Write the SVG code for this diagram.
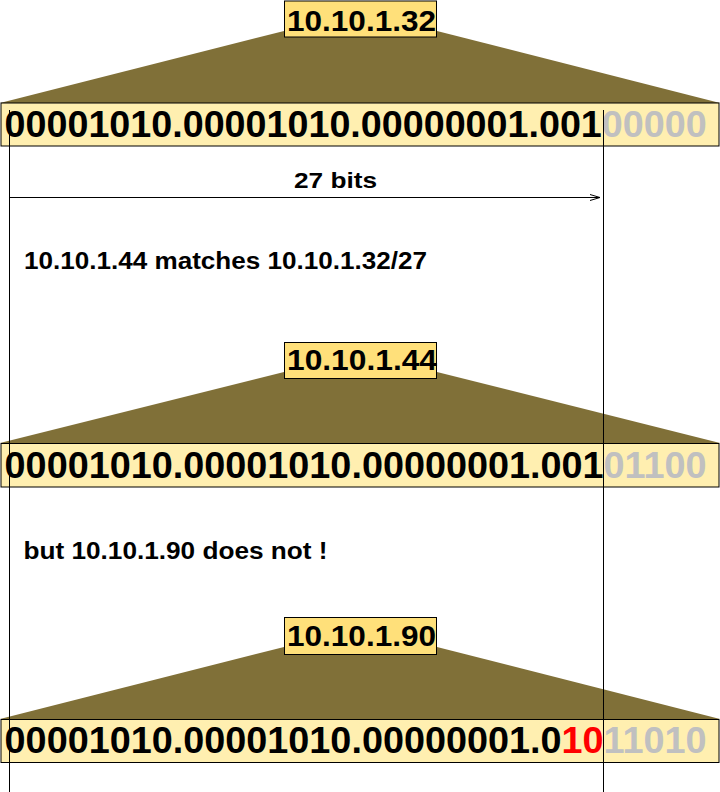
<svg xmlns="http://www.w3.org/2000/svg" width="720" height="792" viewBox="0 0 720 792">
<defs>
<style>
.fan{fill:#807038;stroke:none}
.bar{fill:#FFEFB0;stroke:#000;stroke-width:1}
.lbl{fill:#FFE07A;stroke:#000;stroke-width:1}
.bin{font-family:"Liberation Sans",Arial,sans-serif;font-weight:bold;font-size:36px;fill:#000}
.lt{font-family:"Liberation Sans",Arial,sans-serif;font-weight:bold;font-size:29px;fill:#000}
.cap{font-family:"Liberation Sans",Arial,sans-serif;font-weight:bold;font-size:23.5px;fill:#000}
.g{fill:#C0C0C0}
.r{fill:#FF0000}
.ln{stroke:#000;stroke-width:1;fill:none}
</style>
<marker id="arr" markerWidth="12" markerHeight="8" refX="10" refY="4" orient="auto" markerUnits="userSpaceOnUse">
<path d="M0,1 L10,4 L0,7" fill="none" stroke="#000" stroke-width="1"/>
</marker>
</defs>
<rect width="720" height="792" fill="#fff"/>

<g id="addr1">
<polygon class="fan" points="0,103 284,31 437,31 720,103"/>
<rect class="bar" x="1" y="103" width="718" height="43"/>
<rect class="lbl" x="284.5" y="1" width="152" height="36"/>
<text class="lt" x="287" y="30.7" textLength="149" lengthAdjust="spacingAndGlyphs">10.10.1.32</text>
<text class="bin" x="4.6" y="137.3" textLength="702" lengthAdjust="spacingAndGlyphs">00001010.00001010.00000001.001<tspan class="g">00000</tspan></text>
</g>

<g id="label-27bits">
<text class="cap" style="font-size:22.5px" x="294" y="188.3" textLength="83" lengthAdjust="spacingAndGlyphs">27 bits</text>
</g>

<g id="caption-match">
<text class="cap" x="24" y="269.3" textLength="403" lengthAdjust="spacingAndGlyphs">10.10.1.44 matches 10.10.1.32/27</text>
</g>

<g id="addr2">
<polygon class="fan" points="0,443 284,372 437,372 720,443"/>
<rect class="bar" x="1" y="443.5" width="718" height="43.5"/>
<rect class="lbl" x="284.5" y="342.5" width="152" height="36"/>
<text class="lt" x="287" y="370" textLength="150" lengthAdjust="spacingAndGlyphs">10.10.1.44</text>
<text class="bin" x="4.6" y="478.3" textLength="702" lengthAdjust="spacingAndGlyphs">00001010.00001010.00000001.001<tspan class="g">01100</tspan></text>
</g>

<g id="caption-nomatch">
<text class="cap" x="23.5" y="559.3" textLength="304" lengthAdjust="spacingAndGlyphs">but 10.10.1.90 does not !</text>
</g>

<g id="addr3">
<polygon class="fan" points="0,719 284,647 437,647 720,719"/>
<rect class="bar" x="1" y="719.5" width="718" height="43"/>
<rect class="lbl" x="284.5" y="617.5" width="152" height="37"/>
<text class="lt" x="287" y="646" textLength="149" lengthAdjust="spacingAndGlyphs">10.10.1.90</text>
<text class="bin" x="4.6" y="753.3" textLength="702" lengthAdjust="spacingAndGlyphs">00001010.00001010.00000001.0<tspan class="r">10</tspan><tspan class="g">11010</tspan></text>
</g>

<g id="connectors">
<line class="ln" x1="9.5" y1="110" x2="9.5" y2="792"/>
<line class="ln" x1="603.5" y1="110" x2="603.5" y2="792"/>
<line class="ln" x1="9.5" y1="197.5" x2="600" y2="197.5" marker-end="url(#arr)"/>
</g>
</svg>
